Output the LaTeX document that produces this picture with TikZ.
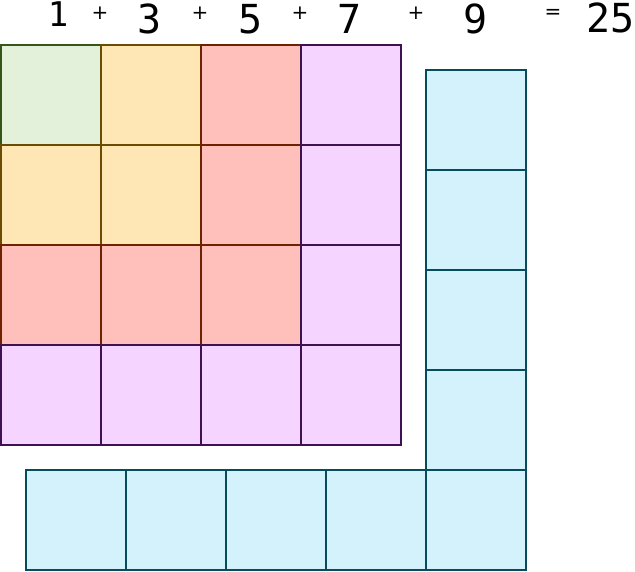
\documentclass[tikz,border=0pt]{standalone}
\usepackage{fontspec}
\setmainfont{DejaVu Sans}
\newfontfamily\numfont{DejaVu Sans Mono}
\newcommand\opsize{\fontsize{20}{20}\selectfont}
\definecolor{gF}{HTML}{E3F0DA}\definecolor{gD}{HTML}{345619}
\definecolor{oF}{HTML}{FFE6B5}\definecolor{oD}{HTML}{6B4C00}
\definecolor{rF}{HTML}{FFBFBB}\definecolor{rD}{HTML}{6F2200}
\definecolor{pF}{HTML}{F5D5FF}\definecolor{pD}{HTML}{3E1150}
\definecolor{cF}{HTML}{D3F2FC}\definecolor{cD}{HTML}{064C5C}
\tikzset{
  cell/.style={draw, line width=2pt, minimum size=100pt, inner sep=0pt, outer sep=0pt, anchor=north west},
  gcell/.style={cell, fill=gF, draw=gD},
  ocell/.style={cell, fill=oF, draw=oD},
  rcell/.style={cell, fill=rF, draw=rD},
  pcell/.style={cell, fill=pF, draw=pD},
  ccell/.style={cell, fill=cF, draw=cD},
  num/.style={font=\numfont\fontsize{40}{40}\selectfont, anchor=base, inner sep=0pt},
  opsign/.style={font=\opsize, inner sep=0pt},
}
\begin{document}
\begin{tikzpicture}[x=1pt,y=-1pt]
\useasboundingbox (0,0) rectangle (635,571);
% 4x4 square
\node[gcell] (a00) at (1,45) {};
\node[ocell] (a01) at (101,45) {};
\node[rcell] (a02) at (201,45) {};
\node[pcell] (a03) at (301,45) {};
\node[ocell] (a10) at (1,145) {};
\node[ocell] (a11) at (101,145) {};
\node[rcell] (a12) at (201,145) {};
\node[pcell] (a13) at (301,145) {};
\node[rcell] (a20) at (1,245) {};
\node[rcell] (a21) at (101,245) {};
\node[rcell] (a22) at (201,245) {};
\node[pcell] (a23) at (301,245) {};
\node[pcell] (a30) at (1,345) {};
\node[pcell] (a31) at (101,345) {};
\node[pcell] (a32) at (201,345) {};
\node[pcell] (a33) at (301,345) {};
% nine
\node[ccell] (c0) at (426,70) {};
\node[ccell] (c1) at (426,170) {};
\node[ccell] (c2) at (426,270) {};
\node[ccell] (c3) at (426,370) {};
\node[ccell] (b0) at (26,470) {};
\node[ccell] (b1) at (126,470) {};
\node[ccell] (b2) at (226,470) {};
\node[ccell] (b3) at (326,470) {};
\node[ccell] (b4) at (426,470) {};
% text
\node[num, font=\numfont\fontsize{34}{34}\selectfont] (t1) at (58,26) {1};
\node[opsign] (p1) at (100,13.5) {+};
\node[num] (t3) at (150,33) {3};
\node[opsign] (p2) at (200,13.5) {+};
\node[num] (t5) at (251,33) {5};
\node[opsign] (p3) at (300,13.5) {+};
\node[num] (t7) at (350,33) {7};
\node[opsign] (p4) at (416,13.5) {+};
\node[num] (t9) at (476,33) {9};
\node[opsign] (eq) at (553,13.5) {=};
\node[num] (t25) at (610.5,32) {25};
\end{tikzpicture}
\end{document}
